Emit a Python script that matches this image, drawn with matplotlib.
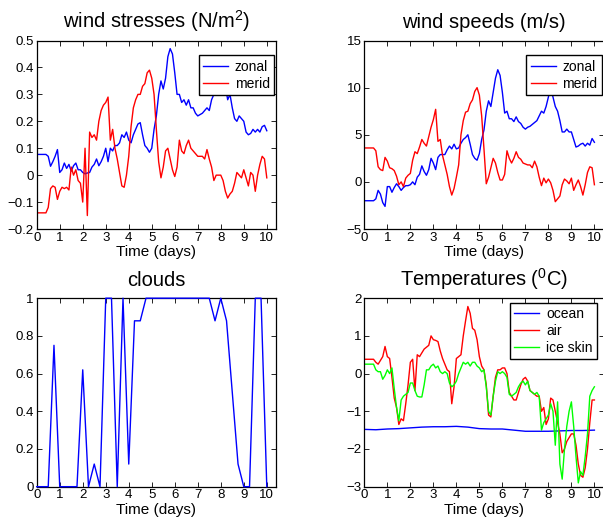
import numpy as np
import matplotlib
matplotlib.use("Agg")
import matplotlib.pyplot as plt

plt.rcParams["font.family"] = ["Liberation Sans", "DejaVu Sans"]
plt.rcParams["mathtext.fontset"] = "custom"
plt.rcParams["mathtext.rm"] = "Liberation Sans"
plt.rcParams["mathtext.it"] = "Liberation Sans:italic"
plt.rcParams["mathtext.default"] = "regular"

# ---- time axes (days) ----
t_hourly = np.round(np.arange(0, 101) * 0.1, 2)    # forcing samples every 0.1 day
t_cloud = np.round(np.arange(0, 41) * 0.25, 2)     # cloud fraction every 6 h
t_ocean = np.round(np.arange(0, 21) * 0.5, 2)      # ocean temperature every 12 h

# ---- wind stresses (N/m^2) ----
zonal_stress = [
    0.077, 0.077, 0.077, 0.077, 0.077, 0.07, 0.033, 0.05, 0.07, 0.095,
    0.01, 0.02, 0.045, 0.025, 0.04, 0.015, 0.035, 0.045, 0.02, 0.02,
    0.01, 0.005, 0.008, 0.01, 0.03, 0.04, 0.06, 0.035, 0.05, 0.07,
    0.1, 0.05, 0.1, 0.09, 0.11, 0.11, 0.12, 0.15, 0.14, 0.16,
    0.13, 0.12, 0.15, 0.17, 0.19, 0.195, 0.15, 0.11, 0.1, 0.085,
    0.1, 0.17, 0.22, 0.3, 0.35, 0.32, 0.36, 0.44, 0.47, 0.45,
    0.38, 0.3, 0.3, 0.27, 0.28, 0.26, 0.28, 0.25, 0.25, 0.23,
    0.22, 0.225, 0.23, 0.24, 0.25, 0.24, 0.28, 0.3, 0.3, 0.33,
    0.35, 0.35, 0.33, 0.28, 0.3, 0.25, 0.21, 0.2, 0.22, 0.21,
    0.2, 0.16, 0.15, 0.155, 0.17, 0.16, 0.17, 0.16, 0.18, 0.185,
    0.165,
]
merid_stress = [
    -0.14, -0.14, -0.14, -0.14, -0.14, -0.12, -0.05, -0.04, -0.045, -0.09,
    -0.06, -0.045, -0.05, -0.045, -0.055, 0.03, 0.0, 0.02, -0.02, -0.03,
    -0.1, 0.1, -0.15, 0.16, 0.14, 0.15, 0.13, 0.2, 0.24, 0.26,
    0.27, 0.29, 0.13, 0.17, 0.1, 0.06, 0.01, -0.04, -0.045, 0.0,
    0.07, 0.18, 0.25, 0.28, 0.3, 0.3, 0.33, 0.34, 0.38, 0.39,
    0.36, 0.3, 0.17, 0.05, -0.01, 0.03, 0.09, 0.1, 0.06, 0.02,
    -0.005, 0.03, 0.13, 0.09, 0.08, 0.11, 0.13, 0.1, 0.09, 0.08,
    0.07, 0.07, 0.07, 0.06, 0.095, 0.06, 0.03, -0.02, 0.0, 0.0,
    0.0, -0.02, -0.06, -0.085, -0.07, -0.06, -0.03, 0.01, 0.0, -0.01,
    0.02, -0.01, -0.04, 0.01, 0.0, -0.06, 0.0, 0.04, 0.07, 0.06,
    -0.01,
]

# ---- wind speeds (m/s) ----
zonal_speed = [
    -2.0, -2.0, -2.0, -2.0, -2.0, -1.8, -0.9, -1.3, -2.2, -2.6,
    -0.5, -0.5, -1.1, -0.6, -0.2, -0.5, -0.9, -0.6, -0.4, -0.4,
    -0.3, 0.0, -0.3, 0.5, 0.8, 1.7, 1.1, 0.7, 1.3, 2.5,
    2.0, 1.3, 2.6, 2.9, 2.9, 2.9, 3.4, 3.8, 3.5, 4.0,
    3.5, 3.6, 4.1, 4.5, 4.7, 5.0, 4.0, 2.9, 2.5, 2.3,
    3.0, 4.5, 5.5, 7.5, 8.6, 8.0, 9.5, 11.0, 11.9, 11.3,
    9.5, 7.3, 7.5, 6.7, 6.7, 6.4, 6.9, 6.4, 6.2, 5.8,
    5.6, 5.8, 5.9, 6.1, 6.3, 6.5, 7.0, 7.5, 7.3, 8.0,
    9.0, 10.0, 9.0, 8.0, 7.5, 6.5, 5.3, 5.3, 5.6, 5.3,
    5.3, 4.5, 3.7, 3.8, 4.0, 4.1, 3.8, 4.1, 3.9, 4.6,
    4.2,
]
merid_speed = [
    3.6, 3.6, 3.6, 3.6, 3.6, 3.3, 1.6, 1.3, 1.2, 2.6,
    2.2, 1.5, 1.4, 1.2, 0.6, -0.3, 0.0, -0.5, 0.4, 0.7,
    0.9, 2.3, 3.2, 3.0, 3.7, 4.5, 4.1, 3.8, 4.8, 5.8,
    6.6, 7.7, 4.3, 4.5, 2.8, 1.8, 0.8, -0.5, -1.4, -0.7,
    0.5, 1.8, 5.0, 6.5, 7.4, 7.5, 8.3, 8.7, 9.6, 10.0,
    9.2, 7.0, 3.5, -0.2, 0.5, 1.5, 2.5, 2.0, 1.0, 0.2,
    0.2, 0.8, 3.3, 2.5, 2.0, 2.5, 3.2, 2.6, 2.4, 2.0,
    1.9, 1.8, 1.8, 1.5, 2.2, 1.6, 0.5, -0.4, 0.4, -0.1,
    0.3, -0.1, -0.9, -2.1, -1.8, -1.5, -0.3, 0.3, 0.1, -0.2,
    0.4, -0.9, -0.3, 0.2, -0.5, -1.4, -0.3, 1.0, 1.6, 1.5,
    -0.3,
]

# ---- cloud fraction ----
clouds = [
    0, 0, 0, 0.75, 0, 0, 0, 0, 0.62, 0,
    0.12, 0, 1, 1, 0, 1, 0.12, 0.88, 0.88, 1,
    1, 1, 1, 1, 1, 1, 1, 1, 1, 1,
    1, 0.88, 1, 0.88, 0.5, 0.12, 0, 0, 1, 1,
    0,
]

# ---- temperatures (deg C) ----
ocean_temp = [
    -1.48, -1.49, -1.47, -1.46, -1.44, -1.42, -1.41, -1.41, -1.40, -1.42,
    -1.46, -1.47, -1.47, -1.50, -1.53, -1.53, -1.53, -1.52, -1.51, -1.51,
    -1.50,
]
air_temp = [
    0.38, 0.38, 0.38, 0.38, 0.38, 0.3, 0.25, 0.35, 0.45, 0.72,
    0.45, 0.4, -0.1, -0.65, -0.9, -1.35, -1.2, -1.25, -0.8, -0.3,
    0.3, 0.38, -0.45, 0.5, 0.45, 0.55, 0.65, 0.7, 0.75, 1.0,
    0.9, 0.88, 0.85, 0.6, 0.4, 0.25, 0.1, 0.05, -0.8, -0.35,
    0.4, 0.45, 0.5, 1.0, 1.4, 1.78, 1.6, 1.2, 1.15, 0.9,
    0.45, 0.2, 0.1, -0.3, -1.1, -1.15, -0.6, -0.1, 0.1, 0.1,
    0.15, 0.15, 0.0, -0.5, -0.6, -0.7, -0.7, -0.5, -0.3, -0.15,
    -0.1, -0.2, -0.45, -0.5, -0.55, -0.6, -0.6, -1.0, -0.9, -1.35,
    -1.2, -0.65, -0.7, -1.0, -1.3, -1.6, -2.1, -2.0, -1.8, -1.7,
    -1.6, -1.6, -1.9, -2.4, -2.7, -2.75, -2.5, -2.0, -1.3, -0.7,
    -0.7,
]
ice_skin_temp = [
    0.25, 0.25, 0.25, 0.25, 0.25, 0.1, 0.05, 0.05, -0.15, -0.05,
    0.1, 0.0, 0.15, -0.4, -0.9, -1.25, -0.7, -0.6, -0.55, -0.5,
    -0.25, -0.25, -0.45, -0.6, -0.62, -0.62, -0.3, 0.1, 0.1, 0.2,
    0.25, 0.15, 0.2, 0.05, 0.0, 0.05, 0.0, -0.25, -0.35, -0.3,
    -0.2, 0.0, 0.15, 0.3, 0.25, 0.3, 0.2, 0.3, 0.3, 0.2,
    0.15, 0.05, 0.1, -0.35, -1.0, -1.1, -0.6, -0.2, 0.05, 0.0,
    0.05, 0.0, -0.1, -0.55, -0.6, -0.55, -0.5, -0.35, -0.25, -0.2,
    -0.3, -0.2, -0.45, -0.5, -0.55, -0.5, -0.6, -1.5, -1.3, -1.2,
    -1.1, -0.8, -1.0, -1.9, -0.75, -2.4, -2.8, -2.0, -1.4, -1.0,
    -0.75, -1.4, -2.2, -2.9, -2.6, -2.7, -2.2, -1.6, -0.6, -0.45,
    -0.35,
]

x_ticks = list(range(0, 11))
stress_ticks = [-0.2, -0.1, 0, 0.1, 0.2, 0.3, 0.4, 0.5]
speed_ticks = [-5, 0, 5, 10, 15]
cloud_ticks = [0, 0.2, 0.4, 0.6, 0.8, 1]
temp_ticks = [-3, -2, -1, 0, 1, 2]

BLUE, RED, GREEN = "#0000ff", "#ff0000", "#00ff00"

fig = plt.figure(figsize=(6.03, 5.25), dpi=100)
W = 0.3968
H = 0.359
ax_stress = fig.add_axes([0.0609, 0.5638, W, H])
ax_speed = fig.add_axes([0.6042, 0.5638, W, H])
ax_cloud = fig.add_axes([0.0609, 0.0730, W, H])
ax_temp = fig.add_axes([0.6042, 0.0730, W, H])


def style(ax, title, yticks, ylim):
    ax.set_xlim(0, 10.4)
    ax.set_ylim(*ylim)
    ax.set_xticks(x_ticks)
    ax.set_yticks(yticks)
    ax.set_yticklabels([("%g" % v).replace("-", "\u2212") for v in yticks])
    ax.tick_params(direction="in", top=True, right=True, length=3.5,
                   width=0.6, labelsize=9.5, pad=2)
    for s in ax.spines.values():
        s.set_linewidth(0.9)
    ax.set_title(title, fontsize=14.5, pad=9)
    ax.set_xlabel("Time (days)", fontsize=11, labelpad=1)


def legend(ax, anchor):
    leg = ax.legend(loc="upper right", bbox_to_anchor=anchor, borderaxespad=0,
                    fontsize=10, frameon=True, fancybox=False, framealpha=1,
                    handlelength=1.8, handletextpad=0.5, labelspacing=0.22,
                    borderpad=0.3)
    leg.get_frame().set_edgecolor("black")
    leg.get_frame().set_linewidth(1.0)


lw = 1.0
ax_stress.plot(t_hourly, zonal_stress, color=BLUE, lw=lw, label="zonal")
ax_stress.plot(t_hourly, merid_stress, color=RED, lw=lw, label="merid")
style(ax_stress, "wind stresses (N/m$^2$)", stress_ticks, (-0.2, 0.5))
legend(ax_stress, (0.992, 0.921))

ax_speed.plot(t_hourly, zonal_speed, color=BLUE, lw=lw, label="zonal")
ax_speed.plot(t_hourly, merid_speed, color=RED, lw=lw, label="merid")
style(ax_speed, "wind speeds (m/s)", speed_ticks, (-5, 15))
legend(ax_speed, (0.992, 0.921))

# cloud fraction sits on the 0 and 1 limits, so draw it over the frame
ax_cloud.plot(t_cloud, clouds, color=BLUE, lw=lw, clip_on=False, zorder=3)
style(ax_cloud, "clouds", cloud_ticks, (0, 1))

ax_temp.plot(t_ocean, ocean_temp, color=BLUE, lw=lw, label="ocean")
ax_temp.plot(t_hourly, air_temp, color=RED, lw=lw, label="air")
ax_temp.plot(t_hourly, ice_skin_temp, color=GREEN, lw=lw, label="ice skin")
style(ax_temp, "Temperatures ($^0$C)", temp_ticks, (-3, 2))
legend(ax_temp, (0.972, 0.975))

fig.savefig("out.png", dpi=100)
